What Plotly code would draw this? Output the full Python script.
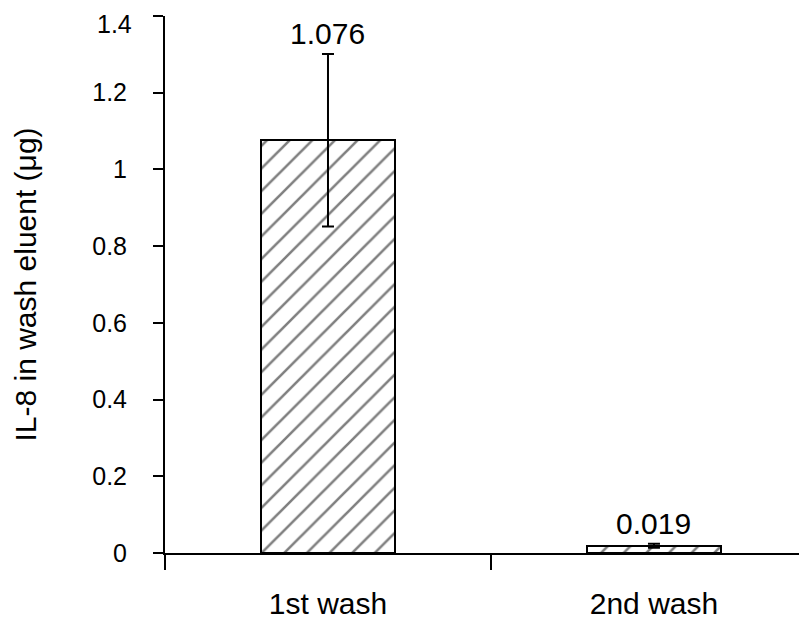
import plotly.graph_objects as go

categories = ["1st wash", "2nd wash"]
values = [1.076, 0.019]
errors = [0.225, 0.005]
value_labels = ["1.076", "0.019"]
y_ticks = [0, 0.2, 0.4, 0.6, 0.8, 1.0, 1.2, 1.4]
y_ticktext = ["0", "0.2", "0.4", "0.6", "0.8", "1", "1.2", "1.4"]

font = "Liberation Sans, Arial, sans-serif"

# the top tick label sits a little below its tick, as in the reference
top_label = y_ticktext[-1]
axis_ticktext = y_ticktext[:-1] + [""]

fig = go.Figure()
fig.add_trace(go.Bar(
    x=categories, y=values, width=0.41,
    marker=dict(color="white", line=dict(color="black", width=2),
                pattern=dict(shape="/", fgcolor="black", bgcolor="white", size=16, solidity=0.16)),
    error_y=dict(type="data", array=errors, visible=True, color="black", thickness=2, width=6),
))
for c, v, e, t in zip(categories, values, errors, value_labels):
    fig.add_annotation(x=c, y=v + e, text=t, showarrow=False, yanchor="bottom", yshift=2,
                       font=dict(family=font, size=30, color="black"))
fig.add_annotation(xref="paper", x=0, y=y_ticks[-1], yref="y", text=top_label, showarrow=False,
                   xanchor="right", yanchor="middle", xshift=-31, yshift=-8,
                   font=dict(family=font, size=25, color="black"))

fig.update_layout(
    width=807, height=622, plot_bgcolor="white", paper_bgcolor="white",
    margin=dict(l=157, r=0, t=8, b=77), showlegend=False, bargap=0,
    font=dict(family=font, color="black"),
)
fig.update_xaxes(
    range=[-0.5, 1.494], showline=True, linecolor="black", linewidth=2,
    ticks="outside", tickson="boundaries", ticklen=15, tickwidth=2, tickcolor="black",
    tickfont=dict(family=font, size=30), showgrid=False, zeroline=False,
    ticklabelstandoff=23, automargin=False,
)
fig.update_yaxes(
    range=[0, 1.4], tickvals=y_ticks, ticktext=axis_ticktext, showline=True,
    linecolor="black", linewidth=2, ticks="outside", ticklen=10, tickwidth=2,
    tickcolor="black", tickfont=dict(family=font, size=25), showgrid=False, zeroline=False,
    ticklabelstandoff=21, automargin=False, ticklabeloverflow="allow",
    title=dict(text="IL-8 in wash eluent (μg)", font=dict(family=font, size=30), standoff=47),
)
fig.write_html("out.html")
